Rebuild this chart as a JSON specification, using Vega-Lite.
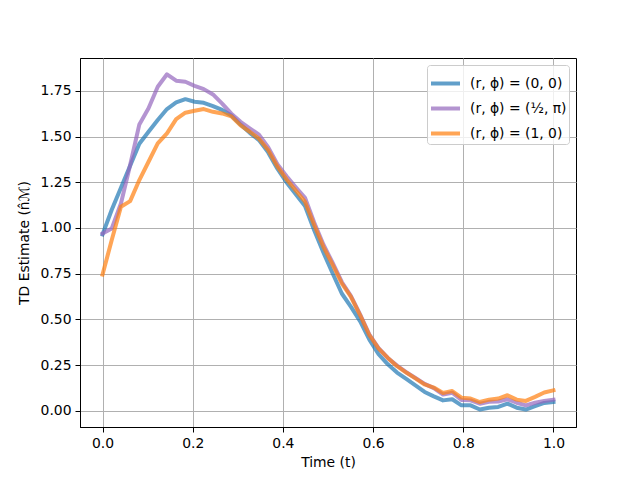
{
  "$schema": "https://vega.github.io/schema/vega-lite/v6.json",
  "width": 496,
  "height": 369,
  "autosize": "none",
  "padding": {"left": 80, "top": 58, "right": 64, "bottom": 53},
  "background": "white",
  "datasets": {
    "runs": [
      {"t": 0.0, "series": "(r, ϕ) = (0, 0)", "value": 0.965},
      {"t": 0.0204, "series": "(r, ϕ) = (0, 0)", "value": 1.10},
      {"t": 0.0408, "series": "(r, ϕ) = (0, 0)", "value": 1.22},
      {"t": 0.0612, "series": "(r, ϕ) = (0, 0)", "value": 1.34},
      {"t": 0.0816, "series": "(r, ϕ) = (0, 0)", "value": 1.46},
      {"t": 0.1020, "series": "(r, ϕ) = (0, 0)", "value": 1.526},
      {"t": 0.1224, "series": "(r, ϕ) = (0, 0)", "value": 1.59},
      {"t": 0.1429, "series": "(r, ϕ) = (0, 0)", "value": 1.65},
      {"t": 0.1633, "series": "(r, ϕ) = (0, 0)", "value": 1.686},
      {"t": 0.1837, "series": "(r, ϕ) = (0, 0)", "value": 1.704},
      {"t": 0.2041, "series": "(r, ϕ) = (0, 0)", "value": 1.69},
      {"t": 0.2245, "series": "(r, ϕ) = (0, 0)", "value": 1.684},
      {"t": 0.2449, "series": "(r, ϕ) = (0, 0)", "value": 1.666},
      {"t": 0.2653, "series": "(r, ϕ) = (0, 0)", "value": 1.645},
      {"t": 0.2857, "series": "(r, ϕ) = (0, 0)", "value": 1.615},
      {"t": 0.3061, "series": "(r, ϕ) = (0, 0)", "value": 1.565},
      {"t": 0.3265, "series": "(r, ϕ) = (0, 0)", "value": 1.52},
      {"t": 0.3469, "series": "(r, ϕ) = (0, 0)", "value": 1.48},
      {"t": 0.3673, "series": "(r, ϕ) = (0, 0)", "value": 1.413},
      {"t": 0.3878, "series": "(r, ϕ) = (0, 0)", "value": 1.324},
      {"t": 0.4082, "series": "(r, ϕ) = (0, 0)", "value": 1.249},
      {"t": 0.4286, "series": "(r, ϕ) = (0, 0)", "value": 1.185},
      {"t": 0.4490, "series": "(r, ϕ) = (0, 0)", "value": 1.12},
      {"t": 0.4694, "series": "(r, ϕ) = (0, 0)", "value": 0.988},
      {"t": 0.4898, "series": "(r, ϕ) = (0, 0)", "value": 0.866},
      {"t": 0.5102, "series": "(r, ϕ) = (0, 0)", "value": 0.753},
      {"t": 0.5306, "series": "(r, ϕ) = (0, 0)", "value": 0.642},
      {"t": 0.5510, "series": "(r, ϕ) = (0, 0)", "value": 0.569},
      {"t": 0.5714, "series": "(r, ϕ) = (0, 0)", "value": 0.49},
      {"t": 0.5918, "series": "(r, ϕ) = (0, 0)", "value": 0.39},
      {"t": 0.6122, "series": "(r, ϕ) = (0, 0)", "value": 0.31},
      {"t": 0.6327, "series": "(r, ϕ) = (0, 0)", "value": 0.255},
      {"t": 0.6531, "series": "(r, ϕ) = (0, 0)", "value": 0.21},
      {"t": 0.6735, "series": "(r, ϕ) = (0, 0)", "value": 0.175},
      {"t": 0.6939, "series": "(r, ϕ) = (0, 0)", "value": 0.14},
      {"t": 0.7143, "series": "(r, ϕ) = (0, 0)", "value": 0.104},
      {"t": 0.7347, "series": "(r, ϕ) = (0, 0)", "value": 0.08},
      {"t": 0.7551, "series": "(r, ϕ) = (0, 0)", "value": 0.058},
      {"t": 0.7755, "series": "(r, ϕ) = (0, 0)", "value": 0.064},
      {"t": 0.7959, "series": "(r, ϕ) = (0, 0)", "value": 0.031},
      {"t": 0.8163, "series": "(r, ϕ) = (0, 0)", "value": 0.031},
      {"t": 0.8367, "series": "(r, ϕ) = (0, 0)", "value": 0.008},
      {"t": 0.8571, "series": "(r, ϕ) = (0, 0)", "value": 0.018},
      {"t": 0.8776, "series": "(r, ϕ) = (0, 0)", "value": 0.022},
      {"t": 0.8980, "series": "(r, ϕ) = (0, 0)", "value": 0.040},
      {"t": 0.9184, "series": "(r, ϕ) = (0, 0)", "value": 0.018},
      {"t": 0.9388, "series": "(r, ϕ) = (0, 0)", "value": 0.008},
      {"t": 0.9592, "series": "(r, ϕ) = (0, 0)", "value": 0.026},
      {"t": 0.9796, "series": "(r, ϕ) = (0, 0)", "value": 0.044},
      {"t": 1.0, "series": "(r, ϕ) = (0, 0)", "value": 0.049},

      {"t": 0.0, "series": "(r, ϕ) = (½, π)", "value": 0.970},
      {"t": 0.0204, "series": "(r, ϕ) = (½, π)", "value": 0.997},
      {"t": 0.0408, "series": "(r, ϕ) = (½, π)", "value": 1.134},
      {"t": 0.0612, "series": "(r, ϕ) = (½, π)", "value": 1.344},
      {"t": 0.0816, "series": "(r, ϕ) = (½, π)", "value": 1.566},
      {"t": 0.1020, "series": "(r, ϕ) = (½, π)", "value": 1.654},
      {"t": 0.1224, "series": "(r, ϕ) = (½, π)", "value": 1.772},
      {"t": 0.1429, "series": "(r, ϕ) = (½, π)", "value": 1.840},
      {"t": 0.1633, "series": "(r, ϕ) = (½, π)", "value": 1.805},
      {"t": 0.1837, "series": "(r, ϕ) = (½, π)", "value": 1.799},
      {"t": 0.2041, "series": "(r, ϕ) = (½, π)", "value": 1.777},
      {"t": 0.2245, "series": "(r, ϕ) = (½, π)", "value": 1.759},
      {"t": 0.2449, "series": "(r, ϕ) = (½, π)", "value": 1.73},
      {"t": 0.2653, "series": "(r, ϕ) = (½, π)", "value": 1.68},
      {"t": 0.2857, "series": "(r, ϕ) = (½, π)", "value": 1.625},
      {"t": 0.3061, "series": "(r, ϕ) = (½, π)", "value": 1.58},
      {"t": 0.3265, "series": "(r, ϕ) = (½, π)", "value": 1.545},
      {"t": 0.3469, "series": "(r, ϕ) = (½, π)", "value": 1.51},
      {"t": 0.3673, "series": "(r, ϕ) = (½, π)", "value": 1.442},
      {"t": 0.3878, "series": "(r, ϕ) = (½, π)", "value": 1.349},
      {"t": 0.4082, "series": "(r, ϕ) = (½, π)", "value": 1.283},
      {"t": 0.4286, "series": "(r, ϕ) = (½, π)", "value": 1.223},
      {"t": 0.4490, "series": "(r, ϕ) = (½, π)", "value": 1.165},
      {"t": 0.4694, "series": "(r, ϕ) = (½, π)", "value": 1.03},
      {"t": 0.4898, "series": "(r, ϕ) = (½, π)", "value": 0.91},
      {"t": 0.5102, "series": "(r, ϕ) = (½, π)", "value": 0.81},
      {"t": 0.5306, "series": "(r, ϕ) = (½, π)", "value": 0.705},
      {"t": 0.5510, "series": "(r, ϕ) = (½, π)", "value": 0.628},
      {"t": 0.5714, "series": "(r, ϕ) = (½, π)", "value": 0.527},
      {"t": 0.5918, "series": "(r, ϕ) = (½, π)", "value": 0.418},
      {"t": 0.6122, "series": "(r, ϕ) = (½, π)", "value": 0.343},
      {"t": 0.6327, "series": "(r, ϕ) = (½, π)", "value": 0.29},
      {"t": 0.6531, "series": "(r, ϕ) = (½, π)", "value": 0.248},
      {"t": 0.6735, "series": "(r, ϕ) = (½, π)", "value": 0.212},
      {"t": 0.6939, "series": "(r, ϕ) = (½, π)", "value": 0.18},
      {"t": 0.7143, "series": "(r, ϕ) = (½, π)", "value": 0.148},
      {"t": 0.7347, "series": "(r, ϕ) = (½, π)", "value": 0.125},
      {"t": 0.7551, "series": "(r, ϕ) = (½, π)", "value": 0.09},
      {"t": 0.7755, "series": "(r, ϕ) = (½, π)", "value": 0.1},
      {"t": 0.7959, "series": "(r, ϕ) = (½, π)", "value": 0.06},
      {"t": 0.8163, "series": "(r, ϕ) = (½, π)", "value": 0.058},
      {"t": 0.8367, "series": "(r, ϕ) = (½, π)", "value": 0.04},
      {"t": 0.8571, "series": "(r, ϕ) = (½, π)", "value": 0.05},
      {"t": 0.8776, "series": "(r, ϕ) = (½, π)", "value": 0.052},
      {"t": 0.8980, "series": "(r, ϕ) = (½, π)", "value": 0.064},
      {"t": 0.9184, "series": "(r, ϕ) = (½, π)", "value": 0.045},
      {"t": 0.9388, "series": "(r, ϕ) = (½, π)", "value": 0.031},
      {"t": 0.9592, "series": "(r, ϕ) = (½, π)", "value": 0.045},
      {"t": 0.9796, "series": "(r, ϕ) = (½, π)", "value": 0.055},
      {"t": 1.0, "series": "(r, ϕ) = (½, π)", "value": 0.062},

      {"t": 0.0, "series": "(r, ϕ) = (1, 0)", "value": 0.746},
      {"t": 0.0204, "series": "(r, ϕ) = (1, 0)", "value": 0.934},
      {"t": 0.0408, "series": "(r, ϕ) = (1, 0)", "value": 1.116},
      {"t": 0.0612, "series": "(r, ϕ) = (1, 0)", "value": 1.147},
      {"t": 0.0816, "series": "(r, ϕ) = (1, 0)", "value": 1.262},
      {"t": 0.1020, "series": "(r, ϕ) = (1, 0)", "value": 1.362},
      {"t": 0.1224, "series": "(r, ϕ) = (1, 0)", "value": 1.462},
      {"t": 0.1429, "series": "(r, ϕ) = (1, 0)", "value": 1.517},
      {"t": 0.1633, "series": "(r, ϕ) = (1, 0)", "value": 1.595},
      {"t": 0.1837, "series": "(r, ϕ) = (1, 0)", "value": 1.630},
      {"t": 0.2041, "series": "(r, ϕ) = (1, 0)", "value": 1.641},
      {"t": 0.2245, "series": "(r, ϕ) = (1, 0)", "value": 1.650},
      {"t": 0.2449, "series": "(r, ϕ) = (1, 0)", "value": 1.635},
      {"t": 0.2653, "series": "(r, ϕ) = (1, 0)", "value": 1.626},
      {"t": 0.2857, "series": "(r, ϕ) = (1, 0)", "value": 1.61},
      {"t": 0.3061, "series": "(r, ϕ) = (1, 0)", "value": 1.561},
      {"t": 0.3265, "series": "(r, ϕ) = (1, 0)", "value": 1.526},
      {"t": 0.3469, "series": "(r, ϕ) = (1, 0)", "value": 1.488},
      {"t": 0.3673, "series": "(r, ϕ) = (1, 0)", "value": 1.426},
      {"t": 0.3878, "series": "(r, ϕ) = (1, 0)", "value": 1.336},
      {"t": 0.4082, "series": "(r, ϕ) = (1, 0)", "value": 1.265},
      {"t": 0.4286, "series": "(r, ϕ) = (1, 0)", "value": 1.205},
      {"t": 0.4490, "series": "(r, ϕ) = (1, 0)", "value": 1.143},
      {"t": 0.4694, "series": "(r, ϕ) = (1, 0)", "value": 1.016},
      {"t": 0.4898, "series": "(r, ϕ) = (1, 0)", "value": 0.897},
      {"t": 0.5102, "series": "(r, ϕ) = (1, 0)", "value": 0.80},
      {"t": 0.5306, "series": "(r, ϕ) = (1, 0)", "value": 0.697},
      {"t": 0.5510, "series": "(r, ϕ) = (1, 0)", "value": 0.623},
      {"t": 0.5714, "series": "(r, ϕ) = (1, 0)", "value": 0.523},
      {"t": 0.5918, "series": "(r, ϕ) = (1, 0)", "value": 0.414},
      {"t": 0.6122, "series": "(r, ϕ) = (1, 0)", "value": 0.341},
      {"t": 0.6327, "series": "(r, ϕ) = (1, 0)", "value": 0.29},
      {"t": 0.6531, "series": "(r, ϕ) = (1, 0)", "value": 0.245},
      {"t": 0.6735, "series": "(r, ϕ) = (1, 0)", "value": 0.21},
      {"t": 0.6939, "series": "(r, ϕ) = (1, 0)", "value": 0.178},
      {"t": 0.7143, "series": "(r, ϕ) = (1, 0)", "value": 0.145},
      {"t": 0.7347, "series": "(r, ϕ) = (1, 0)", "value": 0.128},
      {"t": 0.7551, "series": "(r, ϕ) = (1, 0)", "value": 0.098},
      {"t": 0.7755, "series": "(r, ϕ) = (1, 0)", "value": 0.109},
      {"t": 0.7959, "series": "(r, ϕ) = (1, 0)", "value": 0.073},
      {"t": 0.8163, "series": "(r, ϕ) = (1, 0)", "value": 0.068},
      {"t": 0.8367, "series": "(r, ϕ) = (1, 0)", "value": 0.049},
      {"t": 0.8571, "series": "(r, ϕ) = (1, 0)", "value": 0.062},
      {"t": 0.8776, "series": "(r, ϕ) = (1, 0)", "value": 0.068},
      {"t": 0.8980, "series": "(r, ϕ) = (1, 0)", "value": 0.086},
      {"t": 0.9184, "series": "(r, ϕ) = (1, 0)", "value": 0.062},
      {"t": 0.9388, "series": "(r, ϕ) = (1, 0)", "value": 0.055},
      {"t": 0.9592, "series": "(r, ϕ) = (1, 0)", "value": 0.077},
      {"t": 0.9796, "series": "(r, ϕ) = (1, 0)", "value": 0.101},
      {"t": 1.0, "series": "(r, ϕ) = (1, 0)", "value": 0.113}
    ]
  },
  "data": {"name": "runs"},
  "encoding": {
    "x": {
      "field": "t", "type": "quantitative",
      "scale": {"domain": [-0.05, 1.05], "nice": false, "zero": false},
      "axis": {"title": "Time (t)", "values": [0, 0.2, 0.4, 0.6, 0.8, 1.0], "format": ".1f", "titlePadding": 6}
    },
    "y": {
      "field": "value", "type": "quantitative",
      "scale": {"domain": [-0.0875, 1.929], "nice": false, "zero": false},
      "axis": {"title": "TD Estimate (n̂ℳ)", "values": [0, 0.25, 0.5, 0.75, 1.0, 1.25, 1.5, 1.75], "format": ".2f", "titlePadding": 9}
    },
    "color": {
      "field": "series", "type": "nominal",
      "scale": {
        "domain": ["(r, ϕ) = (0, 0)", "(r, ϕ) = (½, π)", "(r, ϕ) = (1, 0)"],
        "range": ["#1f77b4", "#9467bd", "#ff7f0e"]
      },
      "legend": {
        "title": null,
        "orient": "top-right",
        "offset": 7,
        "padding": 2,
        "fillColor": "rgba(255,255,255,0.8)",
        "strokeColor": "#cccccc",
        "cornerRadius": 3,
        "symbolType": "stroke",
        "symbolStrokeWidth": 4,
        "symbolSize": 841,
        "symbolOpacity": 0.7,
        "rowPadding": -3,
        "labelOffset": 8
      }
    }
  },
  "layer": [
    {
      "transform": [{"filter": "datum.series == '(r, ϕ) = (0, 0)'"}],
      "mark": {"type": "line", "strokeWidth": 4, "opacity": 0.7, "strokeJoin": "round", "strokeCap": "square"}
    },
    {
      "transform": [{"filter": "datum.series == '(r, ϕ) = (½, π)'"}],
      "mark": {"type": "line", "strokeWidth": 4, "opacity": 0.7, "strokeJoin": "round", "strokeCap": "square"}
    },
    {
      "transform": [{"filter": "datum.series == '(r, ϕ) = (1, 0)'"}],
      "mark": {"type": "line", "strokeWidth": 4, "opacity": 0.7, "strokeJoin": "round", "strokeCap": "square"}
    }
  ],
  "config": {
    "view": {"stroke": "black", "strokeWidth": 1},
    "axis": {
      "labelFont": "DejaVu Sans", "labelFontSize": 13.9, "labelColor": "black",
      "titleFont": "DejaVu Sans", "titleFontSize": 13.9, "titleFontWeight": "normal", "titleColor": "black",
      "gridColor": "#b0b0b0", "gridWidth": 1,
      "domainColor": "black", "tickColor": "black", "tickSize": 5, "labelPadding": 4
    },
    "legend": {"labelFont": "DejaVu Sans", "labelFontSize": 13.9, "labelColor": "black"}
  }
}
